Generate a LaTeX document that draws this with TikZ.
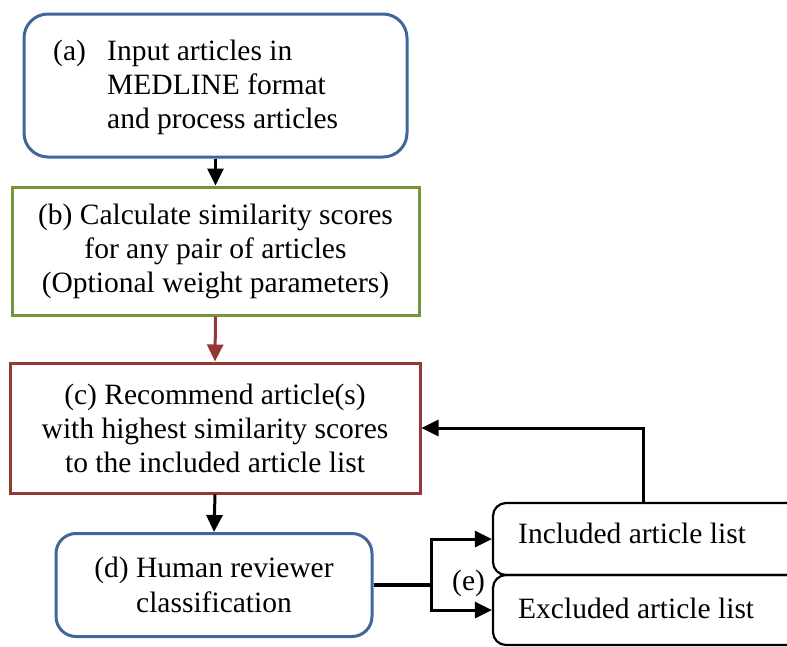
\documentclass[tikz,border=0pt]{standalone}
\usepackage{fontspec}
\setmainfont{Liberation Serif}
\usetikzlibrary{arrows.meta}
\definecolor{boxblue}{HTML}{41679A}
\definecolor{boxgreen}{HTML}{77933C}
\definecolor{boxred}{HTML}{953735}
\begin{document}
\begin{tikzpicture}[x=1pt,y=-1pt,
  txt/.style={font=\fontsize{29.5}{34}\selectfont, inner sep=0pt},
  rbox/.style={draw=boxblue, line width=3pt, rounded corners=24pt, inner sep=0pt},
  sbox/.style={line width=3pt, inner sep=0pt, align=center, font=\fontsize{29.5}{34}\selectfont},
  lbox/.style={draw=black, line width=2.2pt, rounded corners=13pt, inner sep=0pt},
  arr/.style={line width=3pt, -{Triangle[length=17pt,width=16pt]}},
]
\useasboundingbox (0,0) rectangle (787,646);
% box a
\node[rbox, minimum width=383pt, minimum height=143pt] (a) at (215.5,85.5) {};
\node[txt, anchor=base west] (alab) at (53,60) {(a)};
\node[txt, anchor=base west, align=left] (atxt) at (107,128) {Input articles in\\MEDLINE format\\and process articles};
% box b
\node[sbox, draw=boxgreen, minimum width=407pt, minimum height=128pt] (b) at (215.5,251)
  {(b) Calculate similarity scores\\for any pair of articles\\(Optional weight parameters)};
% box c
\node[sbox, draw=boxred, minimum width=410pt, minimum height=130pt] (c) at (215,428)
  {(c) Recommend article(s)\\with highest similarity scores\\to the included article list};
% box d
\node[rbox, rounded corners=20pt, minimum width=316pt, minimum height=103pt, align=center,
  font=\fontsize{29.5}{35}\selectfont] (d) at (214,585)
  {(d) Human reviewer\\classification};
% list boxes
\node[lbox, minimum width=320pt, minimum height=72pt] (inc) at (653,539) {};
\node[lbox, minimum width=320pt, minimum height=70pt] (exc) at (653,610) {};
\node[txt, anchor=base west] (inct) at (518,543) {Included article list};
\node[txt, anchor=base west] (exct) at (518,618) {Excluded article list};
\node[txt, anchor=base west] (e) at (452,590) {(e)};
% connectors
\draw[arr] (a.south) -- (b.north);
\draw[arr, draw=boxred, fill=boxred] (b.south) -- (c.north);
\draw[arr] (c.south) -- (d.north);
\coordinate (split) at (431,585);
\draw[line width=4pt] (d.east) -- (split);
\draw[arr] (split) |- (inc.west);
\draw[arr] (split) |- (exc.west);
\draw[arr] ([xshift=152pt]inc.north west) |- (c.east);
\end{tikzpicture}
\end{document}
